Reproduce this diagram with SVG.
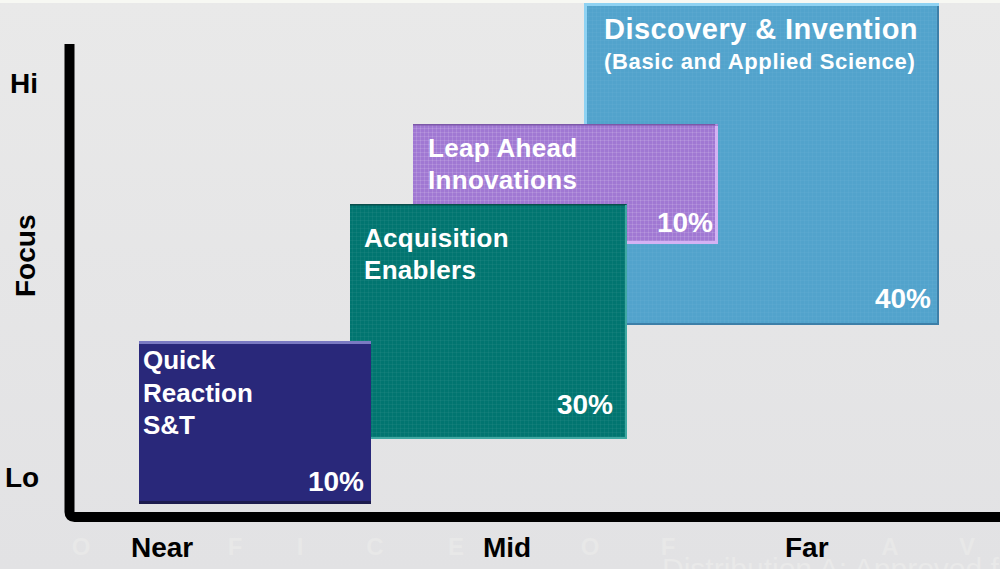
<svg xmlns="http://www.w3.org/2000/svg" width="1000" height="569" viewBox="0 0 1000 569">
  <defs>
    <linearGradient id="bg" x1="0" y1="0" x2="0" y2="1">
      <stop offset="0" stop-color="#e9e9e9"/>
      <stop offset="1" stop-color="#e2e2e4"/>
    </linearGradient>
    <pattern id="grid" width="4" height="4" patternUnits="userSpaceOnUse">
      <path d="M0 0.5H4M0.5 0V4" stroke="#ffffff" stroke-opacity="0.12" stroke-width="1" fill="none"/>
    </pattern>
    <style>
      .lbl { font-family: "Liberation Sans", Arial, sans-serif; font-weight: bold; fill: #ffffff; }
      .axis { font-family: "Liberation Sans", Arial, sans-serif; font-weight: bold; font-size: 28px; fill: #000000; }
      .mark { font-family: "Liberation Sans", Arial, sans-serif; font-weight: bold; font-size: 24px; fill: #e8e8e8; text-anchor: middle; }
      .pct { font-size: 28px; text-anchor: end; }
      .name { font-size: 26px; }
    </style>
  </defs>

  <!-- backdrop -->
  <rect x="0" y="0" width="1000" height="569" fill="url(#bg)"/>
  <rect x="0" y="0" width="1000" height="3" fill="#f7f8f3"/>

  <!-- faint banner lettering along the bottom -->
  <g id="banner">
    <text class="mark" x="81" y="555">O</text>
    <text class="mark" x="235" y="555">F</text>
    <text class="mark" x="300" y="555">I</text>
    <text class="mark" x="375" y="555">C</text>
    <text class="mark" x="456" y="555">E</text>
    <text class="mark" x="590" y="555">O</text>
    <text class="mark" x="668" y="555">F</text>
    <text class="mark" x="890" y="555">A</text>
    <text class="mark" x="967" y="555">V</text>
    <text x="662" y="579" font-family="Liberation Sans, Arial, sans-serif" font-size="30" fill="#e9e9e9">Distribution A: Approved f</text>
  </g>

  <!-- axes -->
  <g id="connectors">
    <path d="M69.5 44 V512 Q69.5 517 74.5 517 H1000" fill="none" stroke="#000000" stroke-width="10"/>
  </g>

  <!-- axis labels -->
  <g id="axis-labels">
    <text class="axis" x="10" y="93">Hi</text>
    <text class="axis" x="5" y="487">Lo</text>
    <text class="axis" transform="translate(35 297) rotate(-90)">Focus</text>
    <text class="axis" x="131" y="557">Near</text>
    <text class="axis" x="483" y="557">Mid</text>
    <text class="axis" x="785" y="557">Far</text>
  </g>

  <!-- Discovery & Invention -->
  <g id="discovery">
    <rect x="584" y="3" width="355" height="322" fill="#52a3cc"/>
    <rect x="584" y="3" width="355" height="322" fill="url(#grid)" opacity="0.25"/>
    <rect x="584" y="3" width="355" height="3" fill="#8fd2f2"/>
    <rect x="584" y="3" width="3" height="322" fill="#8fd2f2"/>
    <rect x="937" y="6" width="2" height="319" fill="#3d7fa8"/>
    <rect x="587" y="323" width="352" height="2" fill="#3d7fa8"/>
    <text class="lbl" x="604" y="39" font-size="29" letter-spacing="0.45">Discovery &amp; Invention</text>
    <text class="lbl" x="604" y="69" font-size="22" letter-spacing="0.65">(Basic and Applied Science)</text>
    <text class="lbl pct" x="931" y="308">40%</text>
  </g>

  <!-- Leap Ahead Innovations -->
  <g id="leap-ahead">
    <rect x="413" y="124" width="305" height="120" fill="#a078d3"/>
    <rect x="413" y="124" width="305" height="120" fill="url(#grid)"/>
    <rect x="413" y="124" width="302" height="1.5" fill="#7c58a8"/>
    <rect x="715" y="126" width="3" height="118" fill="#d4b2f4"/>
    <rect x="415" y="241" width="303" height="3" fill="#d4b2f4"/>
    <text class="lbl name" x="428" y="157" letter-spacing="0.3">Leap Ahead</text>
    <text class="lbl name" x="428" y="189" letter-spacing="0.3">Innovations</text>
    <text class="lbl pct" x="713" y="232">10%</text>
  </g>

  <!-- Acquisition Enablers -->
  <g id="acquisition">
    <rect x="350" y="204" width="277" height="235" fill="#017570"/>
    <rect x="350" y="204" width="277" height="235" fill="url(#grid)" opacity="0.35"/>
    <rect x="350" y="204" width="276" height="1.5" fill="#0b4f4c"/>
    <rect x="625" y="205" width="2" height="234" fill="#3fa8a2"/>
    <rect x="350" y="437" width="277" height="2" fill="#3fa8a2"/>
    <text class="lbl name" x="364" y="247" letter-spacing="0.3">Acquisition</text>
    <text class="lbl name" x="364" y="279" letter-spacing="0.3">Enablers</text>
    <text class="lbl pct" x="613" y="414">30%</text>
  </g>

  <!-- Quick Reaction S&T -->
  <g id="quick-reaction">
    <rect x="139" y="341" width="232" height="163" fill="#29287a"/>
    <rect x="139" y="341" width="232" height="3" fill="#7a7ac2"/>
    <rect x="139" y="501" width="232" height="3" fill="#1d1c4e"/>
    <text class="lbl name" x="143" y="369">Quick</text>
    <text class="lbl name" x="143" y="402">Reaction</text>
    <text class="lbl name" x="143" y="434">S&amp;T</text>
    <text class="lbl pct" x="364" y="491">10%</text>
  </g>
</svg>
